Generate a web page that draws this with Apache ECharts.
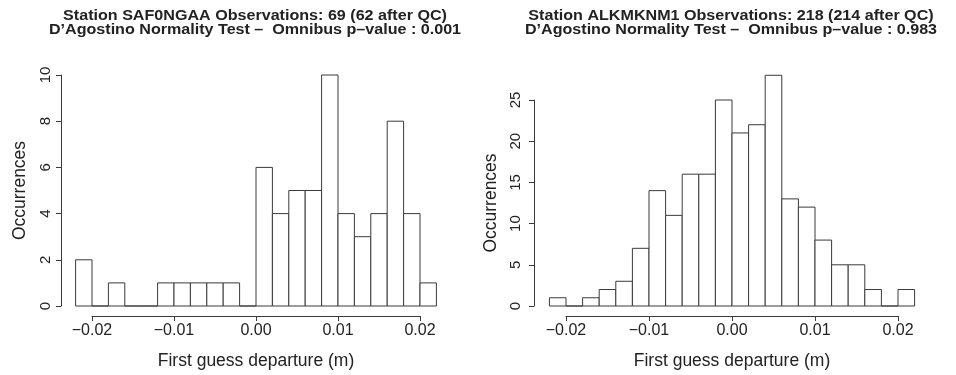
<!DOCTYPE html>
<html>
<head>
<meta charset="utf-8">
<script src="https://cdn.jsdelivr.net/npm/echarts@6/dist/echarts.min.js"></script>
<style>
html,body{margin:0;padding:0;background:#fff;}
#chart{width:956px;height:375px;}
</style>
</head>
<body>
<div id="chart"></div>
<script>
// Histogram bin edges (m), shared by both panels
const binEdges = [-0.022, -0.020, -0.018, -0.016, -0.014, -0.012, -0.010, -0.008, -0.006, -0.004, -0.002,
  0.000, 0.002, 0.004, 0.006, 0.008, 0.010, 0.012, 0.014, 0.016, 0.018, 0.020, 0.022];
// Counts per bin
const leftCounts = [2, 0, 1, 0, 0, 1, 1, 1, 1, 1, 0, 6, 4, 5, 5, 10, 4, 3, 4, 8, 4, 1];
const rightCounts = [1, 0, 1, 2, 3, 7, 14, 11, 16, 16, 25, 21, 22, 28, 13, 12, 8, 5, 5, 2, 0, 2];
// Tick labels / axis settings
const xTicks = [-0.02, -0.01, 0.00, 0.01, 0.02];
const leftYTicks = [0, 2, 4, 6, 8, 10];
const rightYTicks = [0, 5, 10, 15, 20, 25];
const leftTitle = ['Station SAF0NGAA Observations: 69 (62 after QC)', 'D\u2019Agostino Normality Test \u2013  Omnibus p\u2013value : 0.001'];
const rightTitle = ['Station ALKMKNM1 Observations: 218 (214 after QC)', 'D\u2019Agostino Normality Test \u2013  Omnibus p\u2013value : 0.983'];
const xName = 'First guess departure (m)';
const yName = 'Occurrences';

const FONT = '"Liberation Sans", Arial, Helvetica, sans-serif';
const INK = '#222';
const LINE = '#3a3a3a';

function toBins(counts) {
  return counts.map((c, i) => [binEdges[i], binEdges[i + 1], c]);
}

function renderBar(params, api) {
  const x0 = api.value(0), x1 = api.value(1), y = api.value(2);
  const p0 = api.coord([x0, 0]);
  const p1 = api.coord([x1, y]);
  return {
    type: 'rect',
    shape: { x: p0[0], y: p1[1], width: p1[0] - p0[0], height: p0[1] - p1[1] },
    style: { fill: '#fff', stroke: LINE, lineWidth: 1 }
  };
}

function fmtX(v) {
  return v.toFixed(2).replace('-', '\u2212');
}

function xAxisCfg(gridIndex) {
  return {
    type: 'value', gridIndex: gridIndex,
    min: xTicks[0], max: xTicks[xTicks.length - 1], interval: 0.01,
    offset: 10,
    axisLine: { show: true, onZero: false, lineStyle: { color: LINE, width: 1 } },
    axisTick: { show: true, length: 5, lineStyle: { color: LINE } },
    axisLabel: { color: INK, fontFamily: FONT, fontSize: 16, margin: 7, formatter: fmtX },
    splitLine: { show: false },
    name: xName, nameLocation: 'middle', nameGap: 36,
    nameTextStyle: { color: INK, fontFamily: FONT, fontSize: 17.5 }
  };
}

function yAxisCfg(gridIndex, ticks, offset, margin, nameGap) {
  return {
    type: 'value', gridIndex: gridIndex,
    min: ticks[0], max: ticks[ticks.length - 1], interval: ticks[1] - ticks[0],
    offset: offset,
    axisLine: { show: true, onZero: false, lineStyle: { color: LINE, width: 1 } },
    axisTick: { show: true, length: 5, lineStyle: { color: LINE } },
    axisLabel: { color: INK, fontFamily: FONT, fontSize: 15, rotate: 90, margin: margin },
    splitLine: { show: false },
    name: yName, nameLocation: 'middle', nameGap: nameGap, nameRotate: 90,
    nameTextStyle: { color: INK, fontFamily: FONT, fontSize: 17.5 }
  };
}

function titleGraphic(lines, cx) {
  return {
    type: 'text', x: cx, y: 23, scaleX: 1.15,
    style: {
      text: lines.join('\n'), fill: INK,
      font: 'bold 14px ' + FONT,
      textAlign: 'center', textVerticalAlign: 'middle', lineHeight: 13.5
    }
  };
}

const chart = echarts.init(document.getElementById('chart'), null, { renderer: 'canvas' });
chart.setOption({
  backgroundColor: '#fff',
  animation: false,
  grid: [
    { left: 92, top: 75, width: 328, height: 233 },
    { left: 566, top: 100, width: 332, height: 209 }
  ],
  xAxis: [xAxisCfg(0), xAxisCfg(1)],
  yAxis: [yAxisCfg(0, leftYTicks, 31, 8, 32), yAxisCfg(1, rightYTicks, 32, 11, 34)],
  series: [
    { type: 'custom', xAxisIndex: 0, yAxisIndex: 0, renderItem: renderBar, data: toBins(leftCounts), clip: false, silent: true },
    { type: 'custom', xAxisIndex: 1, yAxisIndex: 1, renderItem: renderBar, data: toBins(rightCounts), clip: false, silent: true }
  ],
  graphic: [
    titleGraphic(leftTitle, 255),
    titleGraphic(rightTitle, 731)
  ]
});
</script>
</body>
</html>
